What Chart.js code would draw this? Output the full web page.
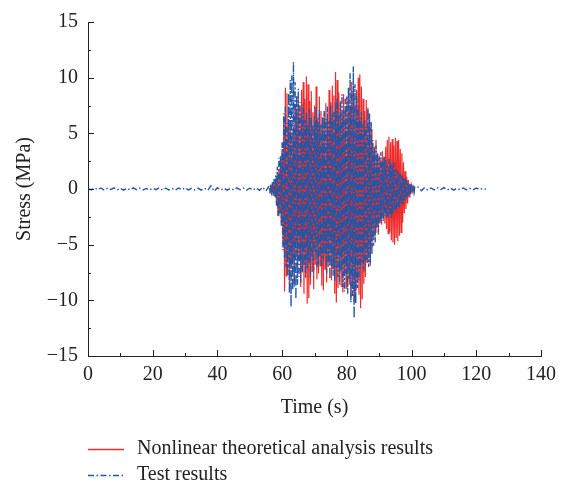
<!DOCTYPE html>
<html>
<head>
<meta charset="utf-8">
<script src="https://cdn.jsdelivr.net/npm/chart.js@4.4.1/dist/chart.umd.min.js"></script>
<style>
  body { margin: 0; background: #fff; }
  canvas { display: block; }
</style>
</head>
<body>
<canvas id="myChart" width="565" height="487"></canvas>
<script>
// quiet part before the train passes (s)
var quietTimeBefore = [0,1,2,3,4,5,6,7,8,9,10,11,12,13,14,15,16,17,18,19,20,21,22,23,24,25,26,27,28,29,
  30,31,32,33,34,35,36,37,38,39,40,41,42,43,44,45,46,47,48,49,50,51,52,53,54,55];
var testBefore = [0.05,-0.08,0.1,-0.06,0.09,-0.1,0.07,-0.05,0.1,-0.09,
  0.06,-0.1,0.08,-0.07,0.1,-0.06,0.09,-0.08,0.05,-0.1,
  0.08,-0.06,0.1,-0.09,0.07,-0.08,0.06,-0.1,0.09,-0.07,
  0.1,-0.08,0.06,-0.09,0.08,-0.1,0.07,-0.12,0.28,-0.2,
  0.12,-0.09,0.08,-0.1,0.06,-0.08,0.1,-0.07,0.09,-0.1,
  0.07,-0.09,0.1,-0.12,0.15,-0.18];

// active part (s)
var activeTime = [
  56,56.25,56.5,56.75,57,57.25,57.5,57.75,
  58,58.25,58.5,58.75,59,59.25,59.5,59.75,
  60,60.25,60.5,60.75,61,61.25,61.5,61.75,
  62,62.25,62.5,62.75,63,63.25,63.5,63.75,
  64,64.25,64.5,64.75,65,65.25,65.5,65.75,
  66,66.25,66.5,66.75,67,67.25,67.5,67.75,
  68,68.25,68.5,68.75,69,69.25,69.5,69.75,
  70,70.25,70.5,70.75,71,71.25,71.5,71.75,
  72,72.25,72.5,72.75,73,73.25,73.5,73.75,
  74,74.25,74.5,74.75,75,75.25,75.5,75.75,
  76,76.25,76.5,76.75,77,77.25,77.5,77.75,
  78,78.25,78.5,78.75,79,79.25,79.5,79.75,
  80,80.25,80.5,80.75,81,81.25,81.5,81.75,
  82,82.25,82.5,82.75,83,83.25,83.5,83.75,
  84,84.25,84.5,84.75,85,85.25,85.5,85.75,
  86,86.25,86.5,86.75,87,87.25,87.5,87.75,
  88,88.25,88.5,88.75,89,89.25,89.5,89.75,
  90,90.25,90.5,90.75,91,91.25,91.5,91.75,
  92,92.25,92.5,92.75,93,93.25,93.5,93.75,
  94,94.25,94.5,94.75,95,95.25,95.5,95.75,
  96,96.25,96.5,96.75,97,97.25,97.5,97.75,
  98,98.25,98.5,98.75,99,99.25,99.5,99.75,
  100,100.25,100.5,100.75,101];

var theoryActive = [
  0.1,-0.2,0.3,-0.3,0.4,-0.4,0.6,-0.5,
  0.8,-1.2,1.5,-2.4,1.8,-2.1,2.6,-3.0,
  3.2,-5.0,6.5,-9.2,9.1,-7.8,8.6,-6.4,
  5.8,-8.5,6.2,-7.0,4.8,-6.6,5.5,-8.3,
  7.6,-5.9,6.8,-7.9,8.2,-6.4,7.2,-8.8,
  8.9,-7.5,9.6,-9.4,8.1,-8.0,10.1,-10.3,
  9.4,-9.8,7.9,-8.6,8.8,-7.4,6.9,-9.0,
  7.5,-6.8,9.2,-8.1,6.4,-7.6,8.3,-6.9,
  7.0,-8.7,5.9,-9.1,6.8,-7.2,7.7,-8.4,
  6.2,-7.0,8.9,-6.5,7.8,-8.2,9.3,-7.1,
  8.4,-9.4,10.5,-10.2,9.8,-8.9,8.7,-7.6,
  7.9,-8.8,6.6,-9.3,8.5,-7.7,7.1,-8.9,
  8.2,-7.4,9.0,-8.6,7.4,-9.7,9.6,-8.0,
  8.8,-10.1,7.6,-9.2,8.9,-8.4,10.0,-9.5,
  10.3,-10.7,9.2,-9.9,8.1,-8.5,7.0,-7.9,
  8.0,-6.6,7.3,-5.8,6.1,-6.9,5.4,-5.2,
  4.1,-4.5,3.8,-3.9,4.4,-3.4,3.2,-4.1,
  3.0,-2.8,2.6,-3.2,3.4,-2.5,2.9,-3.1,
  3.8,-3.6,4.4,-4.0,4.7,-3.9,4.2,-4.6,
  4.5,-4.8,3.9,-5.0,4.6,-4.4,4.3,-4.7,
  4.4,-4.2,3.6,-3.9,3.2,-3.0,2.4,-2.2,
  1.6,-1.8,1.1,-1.3,0.8,-0.7,0.5,-0.4,
  0.3,-0.2,0.2,-0.1,0];

var testActive = [
  0.3,-0.4,0.5,-0.5,0.7,-0.6,0.9,-0.8,
  1.2,-1.5,2.0,-2.4,2.8,-2.2,3.0,-3.3,
  4.2,-5.5,6.8,-6.2,7.4,-7.0,5.9,-7.8,
  8.6,-9.4,9.8,-10.6,10.2,-9.1,11.4,-8.8,
  9.6,-9.9,8.4,-8.6,9.0,-7.9,7.8,-8.4,
  6.8,-7.4,7.6,-6.9,6.2,-7.8,6.9,-7.1,
  5.9,-6.6,7.2,-8.0,6.4,-6.2,5.8,-7.3,
  6.6,-5.9,7.4,-7.0,6.0,-6.8,7.1,-6.1,
  5.8,-7.2,6.5,-6.4,7.0,-5.9,6.3,-7.6,
  7.4,-6.6,6.1,-8.1,7.6,-7.0,6.7,-7.8,
  6.9,-8.3,7.8,-7.1,8.2,-7.9,6.6,-8.6,
  7.7,-7.4,8.5,-8.8,7.0,-9.2,8.1,-7.6,
  8.3,-9.4,9.2,-8.1,10.4,-10.2,8.8,-9.6,
  11.0,-11.6,9.4,-10.3,8.6,-8.9,7.4,-8.2,
  6.4,-7.1,6.9,-6.6,5.8,-7.4,6.2,-6.8,
  5.6,-6.4,7.2,-7.0,6.8,-6.7,6.1,-5.9,
  4.4,-5.1,3.6,-4.8,3.9,-3.6,3.2,-3.9,
  2.8,-3.1,3.3,-2.6,2.5,-2.9,2.9,-2.4,
  2.6,-2.7,2.2,-2.5,2.7,-2.2,2.3,-2.6,
  2.1,-2.3,2.4,-1.9,1.8,-2.1,1.7,-1.6,
  1.5,-1.7,1.4,-1.3,1.2,-1.4,1.1,-1.0,
  0.9,-0.8,0.8,-0.7,0.6,-0.6,0.5,-0.5,
  0.4,-0.3,0.3,-0.3,0.2];

// quiet part after
var quietTimeAfter = [102,103,104,105,106,107,108,109,110,111,112,113,114,115,116,117,118,119,120,121,122,123];
var testAfter = [0.18,-0.15,0.12,-0.1,0.09,-0.08,0.1,-0.07,0.12,-0.09,0.08,-0.1,
  0.07,-0.06,0.09,-0.08,0.06,-0.07,0.08,-0.05,0.06,-0.04];

var xTicks = [0, 20, 40, 60, 80, 100, 120, 140];
var yTicks = [-15, -10, -5, 0, 5, 10, 15];

function toPoints(times, values) {
  var pts = [];
  for (var i = 0; i < Math.min(times.length, values.length); i++) {
    pts.push({x: times[i], y: values[i]});
  }
  return pts;
}

var theoryPoints = toPoints(activeTime, theoryActive);
var testPoints = toPoints(quietTimeBefore, testBefore)
  .concat(toPoints(activeTime, testActive))
  .concat(toPoints(quietTimeAfter, testAfter));

var RED = 'rgb(238, 44, 44)';
var BLUE = 'rgb(34, 86, 166)';
var DASHDOT = [6, 2.5, 1.5, 2.5];
var FONT = '"Liberation Serif", "Times New Roman", serif';

// inward major/minor ticks + legend underneath
var axisDecor = {
  id: 'axisDecor',
  afterDraw: function(chart) {
    var c = chart.ctx, xs = chart.scales.x, ys = chart.scales.y, a = chart.chartArea;
    c.save();
    c.strokeStyle = '#222';
    c.lineWidth = 1;
    c.beginPath();
    for (var v = 0; v <= 140; v += 10) {
      var px = Math.round(xs.getPixelForValue(v)) + 0.5;
      var len = (v % 20 === 0) ? 6 : 3;
      c.moveTo(px, a.bottom);
      c.lineTo(px, a.bottom - len);
    }
    for (var w = -15; w <= 15; w += 2.5) {
      var py = Math.round(ys.getPixelForValue(w)) + 0.5;
      var len2 = (w % 5 === 0) ? 6 : 3;
      c.moveTo(a.left, py);
      c.lineTo(a.left + len2, py);
    }
    c.stroke();

    var items = [
      {text: 'Nonlinear theoretical analysis results', color: RED, dash: [], y: 449},
      {text: 'Test results', color: BLUE, dash: DASHDOT, y: 475}
    ];
    c.font = '20px ' + FONT;
    c.textBaseline = 'middle';
    items.forEach(function(it) {
      c.beginPath();
      c.setLineDash(it.dash);
      c.strokeStyle = it.color;
      c.lineWidth = 1.3;
      c.moveTo(88, it.y + 0.5);
      c.lineTo(124, it.y + 0.5);
      c.stroke();
      c.setLineDash([]);
      c.fillStyle = '#222';
      c.fillText(it.text, 137, it.y);
    });
    c.restore();
  }
};

var ctx = document.getElementById('myChart').getContext('2d');
var myChart = new Chart(ctx, {
  type: 'line',
  data: {
    datasets: [{
      label: 'Nonlinear theoretical analysis results',
      data: theoryPoints,
      borderColor: RED,
      borderWidth: 1.2,
      pointRadius: 0,
      tension: 0,
      order: 1
    }, {
      label: 'Test results',
      data: testPoints,
      borderColor: BLUE,
      borderWidth: 1.4,
      borderDash: DASHDOT,
      pointRadius: 0,
      tension: 0,
      order: 0
    }]
  },
  options: {
    responsive: false,
    animation: false,
    layout: { padding: { left: 0, right: 24, top: 17, bottom: 67 } },
    plugins: {
      legend: { display: false },
      tooltip: { enabled: false }
    },
    scales: {
      x: {
        type: 'linear',
        min: 0,
        max: 140,
        afterBuildTicks: function(scale) {
          scale.ticks = xTicks.map(function(v) { return {value: v}; });
        },
        afterFit: function(scale) { scale.height = 64; },
        grid: { display: false, drawTicks: false },
        border: { display: true, color: '#222', width: 1 },
        ticks: { color: '#222', padding: 7, maxRotation: 0, font: { family: FONT, size: 20 } },
        title: {
          display: true,
          text: 'Time (s)',
          color: '#222',
          padding: 0,
          font: { family: FONT, size: 20 }
        }
      },
      y: {
        min: -15,
        max: 15,
        afterBuildTicks: function(scale) {
          scale.ticks = yTicks.map(function(v) { return {value: v}; });
        },
        afterFit: function(scale) { scale.width = 88; },
        grid: { display: false, drawTicks: false },
        border: { display: true, color: '#222', width: 1 },
        ticks: {
          color: '#222',
          padding: 10,
          font: { family: FONT, size: 20 },
          callback: function(v) { return String(v).replace('-', '\u2212'); }
        },
        title: {
          display: true,
          text: 'Stress (MPa)',
          color: '#222',
          padding: { top: 13, bottom: 0 },
          font: { family: FONT, size: 20 }
        }
      }
    }
  },
  plugins: [axisDecor]
});
</script>
</body>
</html>
